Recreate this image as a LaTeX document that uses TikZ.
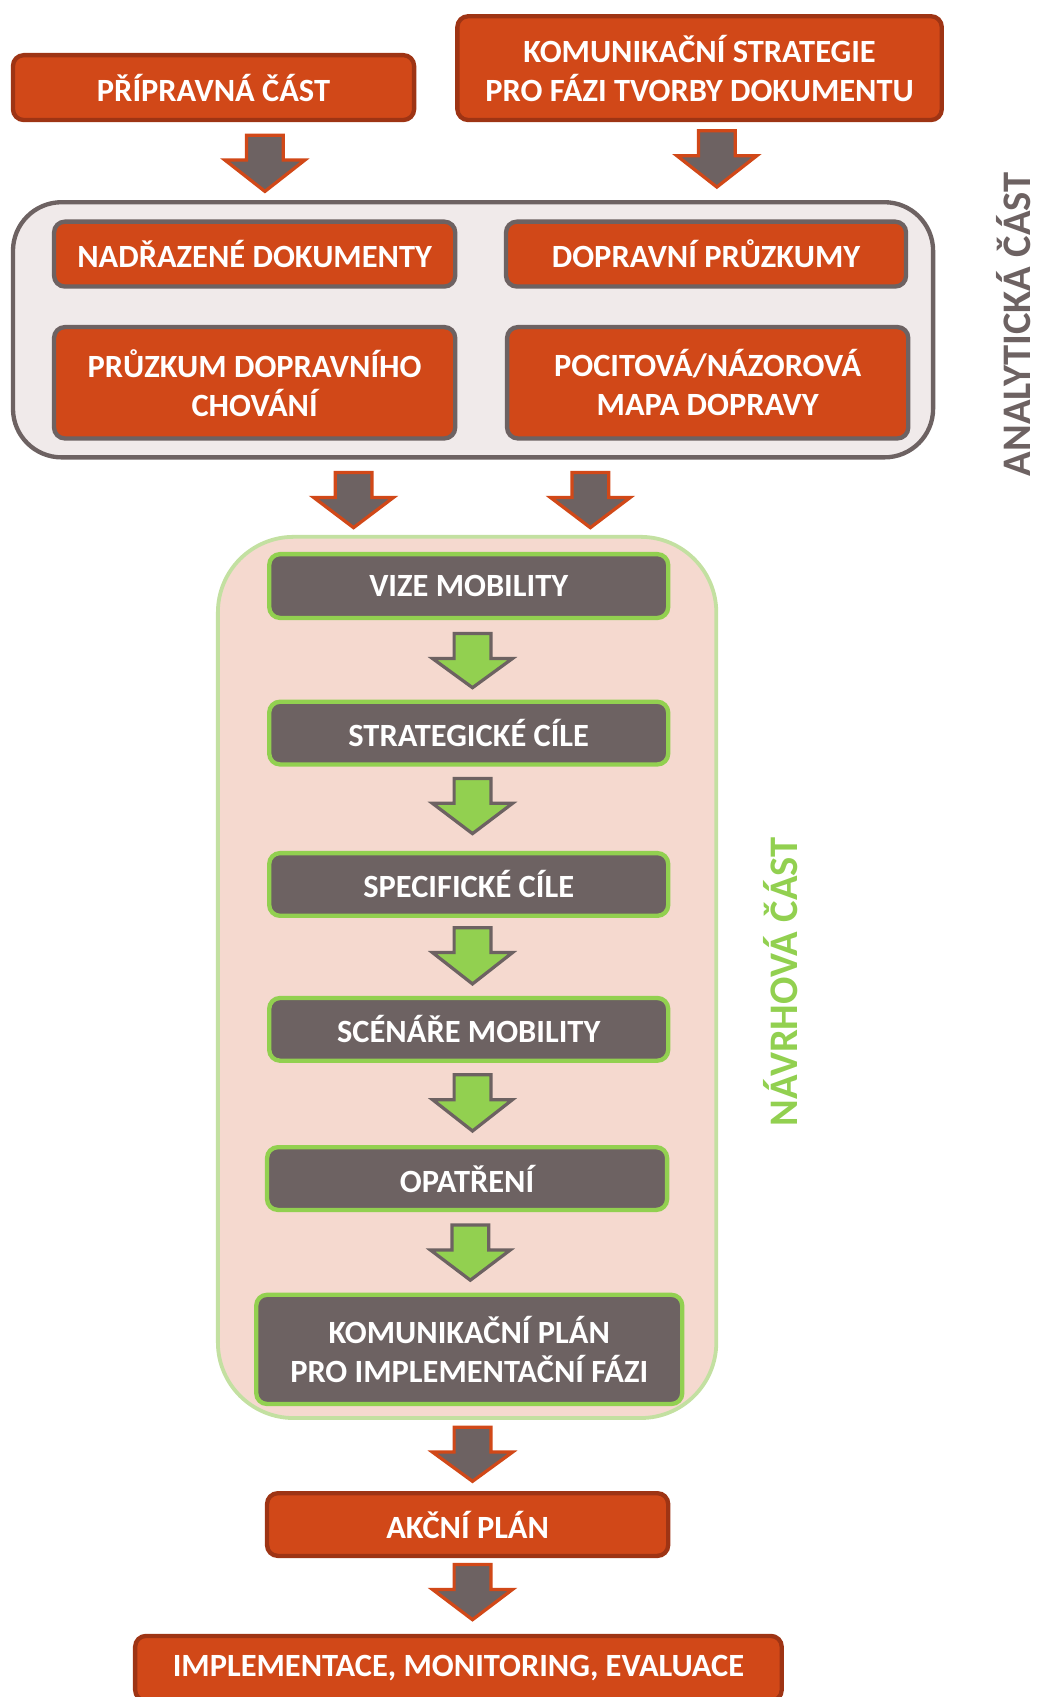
\documentclass[tikz,border=0pt]{standalone}
\usepackage{fontspec}
\setmainfont{Carlito}
\definecolor{orng}{HTML}{D14818}
\definecolor{orngdark}{HTML}{9E3414}
\definecolor{grayb}{HTML}{6D6262}
\definecolor{grn}{HTML}{92D050}
\definecolor{pinkf}{HTML}{F5D9CF}
\definecolor{lgrn}{HTML}{C3E0A1}
\definecolor{palef}{HTML}{F0EAEA}
\tikzset{
 box/.style={rounded corners=10pt, line width=4pt, text=white, font=\fontsize{30}{36}\selectfont\bfseries, align=center, inner sep=0pt},
 obox/.style={box, fill=orng, draw=orngdark},
 ogbox/.style={box, fill=orng, draw=grayb},
 gbox/.style={box, fill=grayb, draw=grn},
 oarrow/.style={fill=grayb, draw=orng, line width=3pt, line join=miter},
 garrow/.style={fill=grn, draw=grayb, line width=3pt, line join=miter},
 sidelabel/.style={rotate=90, font=\fontsize{37.5}{42}\selectfont\bfseries, inner sep=0pt},
}
\newcommand\blockarr[4]{%
 \draw[#1] (#2-17,#3) -- (#2+17,#3) -- (#2+17,#3+23) -- (#2+37,#3+23) -- (#2,#4) -- (#2-37,#3+23) -- (#2-17,#3+23) -- cycle;}
\begin{document}
\begin{tikzpicture}[x=1pt,y=-1pt]
\useasboundingbox (0,0) rectangle (960,1569.5);
% top boxes
\node[obox, minimum width=371, minimum height=60] (prip) at (197.5,81) {PŘÍPRAVNÁ ČÁST};
\node[obox, minimum width=448, minimum height=96] (komstr) at (647,63) {KOMUNIKAČNÍ STRATEGIE\\PRO FÁZI TVORBY DOKUMENTU};
\blockarr{oarrow}{245}{125}{177}
\blockarr{oarrow}{663}{121}{173}
% analytic container
\node[draw=grayb, fill=palef, line width=4pt, rounded corners=45pt, minimum width=851, minimum height=236, inner sep=0pt] (anal) at (437.5,305) {};
\node[ogbox, minimum width=371, minimum height=60] (nadr) at (235.5,235) {NADŘAZENÉ DOKUMENTY};
\node[ogbox, minimum width=370, minimum height=60] (dopr) at (653,235) {DOPRAVNÍ PRŮZKUMY};
\node[ogbox, minimum width=371, minimum height=103] (pruzk) at (235.5,354) {PRŮZKUM DOPRAVNÍHO\\CHOVÁNÍ};
\node[ogbox, minimum width=371, minimum height=103] (pocit) at (654.5,354) {POCITOVÁ/NÁZOROVÁ\\MAPA DOPRAVY};
\node[sidelabel, text=grayb] (analab) at (937,300) {ANALYTICKÁ ČÁST};
\blockarr{oarrow}{327}{437}{488}
\blockarr{oarrow}{546}{437}{488}
% design container
\node[draw=lgrn, fill=pinkf, line width=3.5pt, rounded corners=70pt, minimum width=461, minimum height=815, inner sep=0pt] (navr) at (432,904) {};
\node[gbox, minimum width=369, minimum height=59] (vize) at (433.5,542) {VIZE MOBILITY};
\node[gbox, minimum width=369, minimum height=58] (strat) at (433.5,678) {STRATEGICKÉ CÍLE};
\node[gbox, minimum width=369, minimum height=58] (spec) at (433.5,818) {SPECIFICKÉ CÍLE};
\node[gbox, minimum width=369, minimum height=58] (scen) at (433.5,952) {SCÉNÁŘE MOBILITY};
\node[gbox, minimum width=370, minimum height=58] (opat) at (432,1090) {OPATŘENÍ};
\node[gbox, minimum width=394, minimum height=101] (kompl) at (434,1248) {KOMUNIKAČNÍ PLÁN\\PRO IMPLEMENTAČNÍ FÁZI};
\node[sidelabel, text=grn] (navlab) at (722,908) {NÁVRHOVÁ ČÁST};
\blockarr{garrow}{437}{586}{636}
\blockarr{garrow}{437}{720}{771}
\blockarr{garrow}{437}{858}{910}
\blockarr{garrow}{437}{994}{1046}
\blockarr{garrow}{435}{1133}{1184}
% bottom
\blockarr{oarrow}{437}{1320}{1370}
\node[obox, minimum width=371, minimum height=58] (akcni) at (432.5,1410) {AKČNÍ PLÁN};
\blockarr{oarrow}{437}{1447}{1498}
\node[obox, minimum width=598, minimum height=60] (impl) at (424,1543) {IMPLEMENTACE, MONITORING, EVALUACE};
\end{tikzpicture}
\end{document}
